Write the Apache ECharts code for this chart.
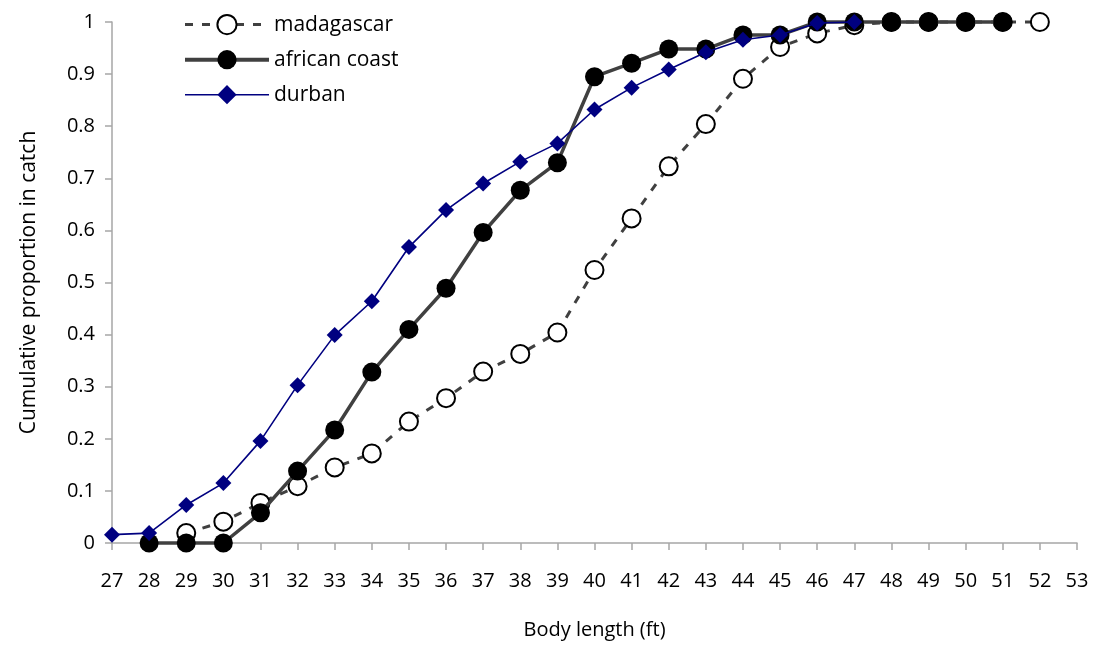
<!DOCTYPE html>
<html>
<head>
<meta charset="utf-8">
<script src="https://cdn.jsdelivr.net/npm/echarts@6/dist/echarts.min.js"></script>
<style>
html,body{margin:0;padding:0;background:#fff;}
#chart{width:1096px;height:650px;}
</style>
</head>
<body>
<div id="chart"></div>
<script>
// Body length categories (ft)
const categories = ['27','28','29','30','31','32','33','34','35','36','37','38','39','40','41','42','43','44','45','46','47','48','49','50','51','52','53'];
// Cumulative proportion in catch
const madagascar = [null, null, 0.019, 0.041, 0.077, 0.109, 0.145, 0.172, 0.233, 0.278, 0.329, 0.363, 0.404, 0.524, 0.623, 0.723, 0.804, 0.891, 0.952, 0.978, 0.994, 1, 1, 1, 1, 1, null];
const africanCoast = [null, 0, 0, 0, 0.058, 0.138, 0.217, 0.328, 0.41, 0.489, 0.596, 0.677, 0.73, 0.895, 0.921, 0.948, 0.948, 0.975, 0.975, 1, 1, 1, 1, 1, 1, null, null];
const durban = [0.016, 0.019, 0.073, 0.115, 0.196, 0.303, 0.399, 0.464, 0.568, 0.639, 0.69, 0.732, 0.767, 0.832, 0.874, 0.909, 0.942, 0.966, 0.975, 0.998, 1, null, null, null, null, null, null];
const seriesNames = ['madagascar', 'african coast', 'durban'];
const xTitle = 'Body length (ft)';
const yTitle = 'Cumulative proportion in catch';

const FONT = "'Open Sans', 'Liberation Sans', sans-serif";
const chart = echarts.init(document.getElementById('chart'), null, {renderer: 'canvas'});
const axisGray = '#a6a6a6';

chart.setOption({
  animation: false,
  backgroundColor: '#ffffff',
  textStyle: {fontFamily: FONT},
  grid: {left: 112, right: 19, top: 22, bottom: 107, containLabel: false},
  legend: {
    orient: 'vertical',
    left: 178, top: 9,
    itemWidth: 84, itemHeight: 24, itemGap: 14,
    textStyle: {fontFamily: FONT, fontSize: 21, color: '#000'},
    data: [
      {name: seriesNames[0], lineStyle: {width: 3, type: [8, 9]}},
      {name: seriesNames[1], lineStyle: {width: 4}},
      {name: seriesNames[2], lineStyle: {width: 1.6}}
    ]
  },
  xAxis: {
    type: 'category',
    data: categories,
    boundaryGap: false,
    name: xTitle,
    nameLocation: 'middle',
    nameGap: 77,
    nameTextStyle: {fontFamily: FONT, fontSize: 20, color: '#000'},
    axisLine: {lineStyle: {color: axisGray, width: 1.5}},
    axisTick: {length: 7, lineStyle: {color: axisGray, width: 1.5}},
    axisLabel: {fontFamily: FONT, fontSize: 20, color: '#000', margin: 28, interval: 0},
    splitLine: {show: false}
  },
  yAxis: {
    type: 'value',
    min: 0, max: 1, interval: 0.1,
    name: yTitle,
    nameLocation: 'middle',
    nameGap: 72,
    nameTextStyle: {fontFamily: FONT, fontSize: 21, color: '#000'},
    axisLine: {show: true, lineStyle: {color: axisGray, width: 1.5}},
    axisTick: {show: true, length: 7, lineStyle: {color: axisGray, width: 1.5}},
    axisLabel: {fontFamily: FONT, fontSize: 20, color: '#000', margin: 17,
      formatter: v => String(+v.toFixed(1))},
    splitLine: {show: false}
  },
  series: [
    {
      name: seriesNames[0],
      type: 'line',
      data: madagascar,
      clip: false,
      symbol: 'circle',
      symbolSize: 18,
      showAllSymbol: true,
      lineStyle: {color: '#404040', width: 3, type: [8, 9]},
      itemStyle: {color: '#ffffff', borderColor: '#000000', borderWidth: 2},
      emphasis: {disabled: true},
      z: 2
    },
    {
      name: seriesNames[1],
      type: 'line',
      data: africanCoast,
      clip: false,
      symbol: 'circle',
      symbolSize: 19,
      showAllSymbol: true,
      lineStyle: {color: '#404040', width: 3.5},
      itemStyle: {color: '#000000', borderColor: '#000000', borderWidth: 0},
      emphasis: {disabled: true},
      z: 3
    },
    {
      name: seriesNames[2],
      type: 'line',
      data: durban,
      clip: false,
      symbol: 'diamond',
      symbolSize: 16,
      showAllSymbol: true,
      lineStyle: {color: '#000080', width: 1.6},
      itemStyle: {color: '#000080', borderColor: '#000080', borderWidth: 0},
      emphasis: {disabled: true},
      z: 4
    }
  ]
});
</script>
</body>
</html>
